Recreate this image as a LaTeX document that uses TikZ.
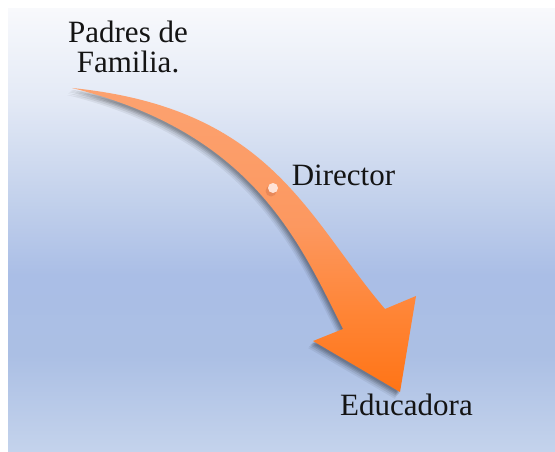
\documentclass[tikz,border=0pt]{standalone}
\usepackage{fontspec}
\setmainfont{Liberation Serif}
\definecolor{bgA}{RGB}{248,249,252}
\definecolor{bgB}{RGB}{228,234,246}
\definecolor{bgC}{RGB}{196,210,236}
\definecolor{bgD}{RGB}{170,190,230}
\definecolor{bgE}{RGB}{171,191,228}
\definecolor{bgF}{RGB}{196,211,236}
\definecolor{arA}{RGB}{252,162,112}
\definecolor{arB}{RGB}{252,152,96}
\definecolor{arC}{RGB}{255,132,52}
\definecolor{arD}{RGB}{255,116,22}
\definecolor{dotfill}{RGB}{255,226,214}
\definecolor{dotshadow}{RGB}{214,120,80}
\definecolor{txt}{RGB}{20,20,20}
\pgfdeclareverticalshading{bgshade}{100bp}{color(0bp)=(bgF); color(25bp)=(bgF); color(36bp)=(bgE); color(45bp)=(bgD); color(54bp)=(bgC); color(65bp)=(bgB); color(75bp)=(bgA); color(100bp)=(bgA)}
\pgfdeclareverticalshading{arrowshade}{100bp}{color(0bp)=(arD); color(25bp)=(arD); color(37.5bp)=(arC); color(52.5bp)=(arB); color(75bp)=(arA); color(100bp)=(arA)}
\tikzset{
  lbl/.style={font=\fontsize{31}{30}\selectfont, text=txt, inner sep=0pt},
  shadowlayer/.style={fill=black, fill opacity=#1}
}
\def\arrowpath{(72,88) .. controls (272,108) and (307,218) .. (385,309) -- (416,296) -- (400,392) -- (313,341) -- (343,329) .. controls (298,239) and (252,133) .. (72,88) -- cycle}
\begin{document}
\begin{tikzpicture}[x=1pt,y=-1pt]
\useasboundingbox (0,0) rectangle (555,452);
\fill[white] (0,0) rectangle (555,452);
\shade[shading=bgshade] (8,9) rectangle (555,452);
% shadow of the arrow
\foreach \dx/\dy/\op in {-1/2/0.10,-2/3/0.10,-3/4/0.10,-4/5.5/0.08,-5/7/0.06}{
  \fill[shadowlayer=\op, shift={(\dx,\dy)}] \arrowpath;
}
% arrow
\shade[shading=arrowshade] \arrowpath;
% dot
\fill[dotshadow, opacity=0.5] (271,191) circle (5.5);
\node[circle, fill=dotfill, minimum size=10pt, inner sep=0pt] (dot) at (273,188) {};
% labels
\node[lbl, align=center, anchor=north] (padres) at (128,21) {Padres de\\Familia.};
\node[lbl, anchor=base] (director) at (343.5,185) {Director};
\node[lbl, anchor=base] (educadora) at (406.5,415) {Educadora};
\end{tikzpicture}
\end{document}
